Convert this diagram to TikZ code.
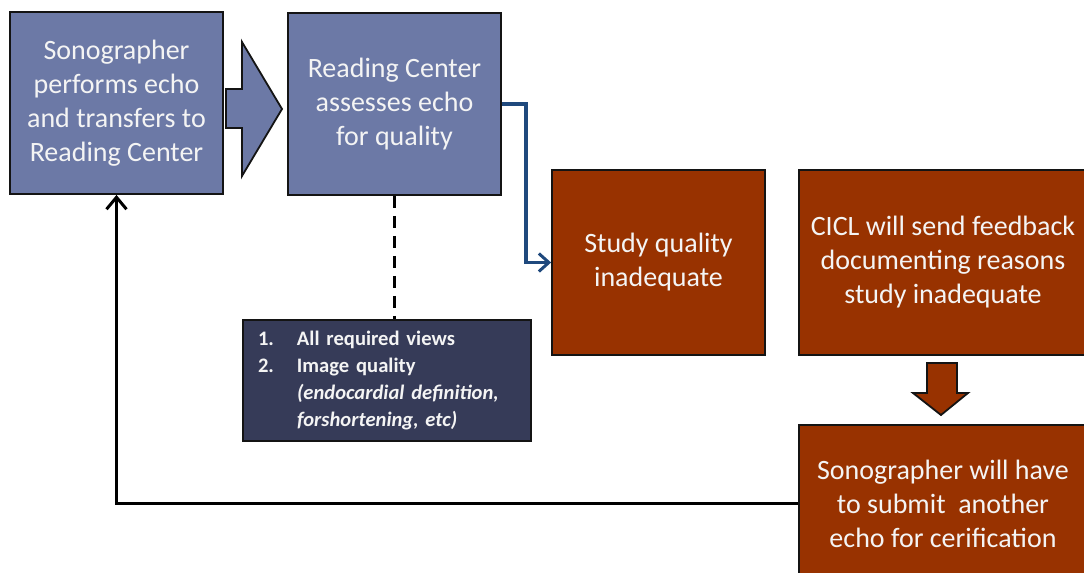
\documentclass[tikz,border=0pt]{standalone}
\usepackage{fontspec}
\setmainfont{Carlito}
\usetikzlibrary{arrows.meta,positioning}
\definecolor{slate}{HTML}{6C79A6}
\definecolor{rust}{HTML}{983200}
\definecolor{nightA}{HTML}{363B58}
\definecolor{edge}{HTML}{141414}
\definecolor{paper}{HTML}{F4F4F4}
\definecolor{flowblue}{HTML}{1F497D}

\begin{document}
\begin{tikzpicture}[
  x=0.5pt, y=-0.5pt,
  box/.style={
    draw=edge, line width=0.9pt, align=center, text=paper,
    font=\fontsize{14}{17}\selectfont, inner sep=0pt
  },
  bluebox/.style={box, fill=slate, minimum width=106.5pt, minimum height=91pt},
  rustbox/.style={box, fill=rust},
  critbox/.style={
    draw=edge, line width=0.9pt, fill=nightA, text=paper, align=left,
    font=\bfseries\fontsize{10.3}{13.5}\selectfont,
    minimum width=144pt, minimum height=60.5pt, text width=129pt, inner xsep=7.5pt
  },
  blockarrow/.style={draw=edge, line width=0.9pt, line join=miter},
  backflow/.style={-{Straight Barb[length=6pt,width=10pt,line width=1.5pt]}, line width=1.6pt, draw=black},
  okflow/.style={-{Straight Barb[length=5pt,width=9pt,line width=1.5pt]}, line width=1.6pt, draw=flowblue}
]
\useasboundingbox (0,0) rectangle (1084,573);

\node[bluebox] (sono) at (116.5,103) {Sonographer\\performs echo\\and transfers to\\Reading Center};
\node[bluebox] (read) at (394.5,104) {Reading Center\\assesses echo\\for quality};

\node[rustbox, minimum width=106.5pt, minimum height=92.5pt]
  (study) at (658.5,262.5) {Study quality\\inadequate};
\node[rustbox, minimum width=144pt, minimum height=92.5pt]
  (cicl) at (943,262.5) {CICL will send feedback\\documenting reasons\\study inadequate};
\node[rustbox, minimum width=144pt, minimum height=78.5pt]
  (resubmit) at (943,503.5) {Sonographer will have\\to submit\ \ another\\echo for cerification};

\node[critbox] (crit) at (387,380.5) {%
  \begin{tabular}{@{}p{19.5pt}@{}l@{}}
  1. & All required views\\
  2. & Image quality\\
     & \textit{(endocardial definition,}\\
     & \textit{forshortening, etc)}
  \end{tabular}};

% block arrows
\draw[blockarrow, fill=slate]
  (226,89) -- (242,89) -- (242,42) -- (282,109) -- (242,176) -- (242,128) -- (226,128) -- cycle;
\draw[blockarrow, fill=rust]
  (927,363) -- (957,363) -- (957,393) -- (968,393) -- (941,415) -- (913,393) -- (927,393) -- cycle;

\draw[dashed, line width=1.5pt, dash pattern=on 6pt off 4pt] (read.south) -- (read.south |- crit.north);
\draw[okflow] (read.east) -- ++(12pt,0) |- (study.west);
\draw[backflow] (resubmit.west) -| (sono.south);

\end{tikzpicture}
\end{document}
